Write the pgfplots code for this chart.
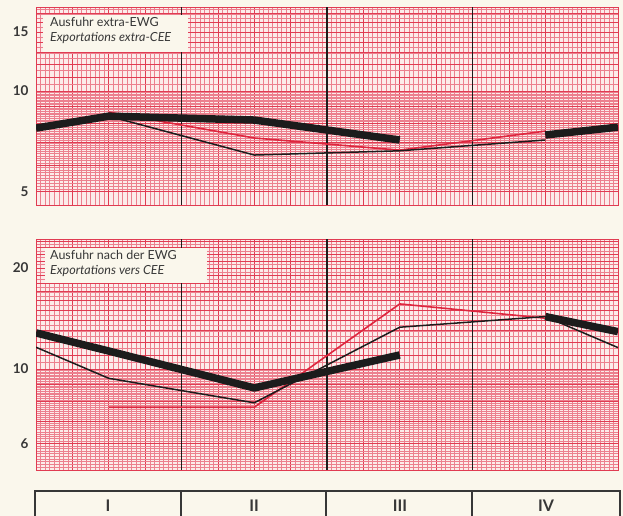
\documentclass[border=0pt]{standalone}
\usepackage{fontspec}
\setmainfont{Lato}
\usepackage{pgfplots}
\pgfplotsset{compat=1.18}
\definecolor{paper}{RGB}{250,247,236}
\definecolor{gridheavy}{RGB}{224,60,82}
\definecolor{gridlight}{RGB}{236,128,142}
\definecolor{gridbg}{RGB}{252,236,234}
\definecolor{redline}{RGB}{222,38,62}
\definecolor{ink}{RGB}{28,28,28}
\definecolor{labelgray}{RGB}{55,55,55}

\pgfplotsset{
  graphpaper/.style={
    scale only axis, width=582pt,
    xmin=0, xmax=4,
    xtick={0,0.25,...,4}, xticklabels={}, minor x tick num=7,
    grid=both,
    major grid style={gridheavy, line width=0.55pt},
    minor grid style={gridlight, line width=0.32pt},
    tick style={draw=none},
    axis line style={gridheavy, line width=0.6pt},
    axis background/.style={fill=gridbg},
    yticklabel style={font=\fontsize{13.5}{13.5}\selectfont\bfseries, text=labelgray, xshift=-4pt},
    /pgf/number format/assume math mode=true,
  },
  thickser/.style={ink, line width=7.5pt, line join=round},
  thinser/.style={ink, line width=1.5pt, line join=round},
  redser/.style={redline, line width=1.6pt, line join=round},
}

\begin{document}
\begin{tikzpicture}
\fill[paper] (0,0) rectangle (623pt,516pt);
\path[use as bounding box] (0,0) rectangle (623pt,516pt);

% top panel: exports outside the EEC
\begin{axis}[ymode=log, graphpaper, at={(36pt,311pt)}, anchor=south west,
    height=198pt, ymin=4.56, ymax=17.8,
    ytick={5,6,...,17},
    yticklabels={5,{},{},{},{},10,{},{},{},{},15,{},{}},
    minor ytick={5.1,5.2,...,9.95,10.5,11,...,17.6},
]
\draw[ink, line width=1.1pt] (rel axis cs:0.25,0) -- (rel axis cs:0.25,1);
\draw[ink, line width=1.1pt] (rel axis cs:0.5,0) -- (rel axis cs:0.5,1);
\draw[ink, line width=1.1pt] (rel axis cs:0.75,0) -- (rel axis cs:0.75,1);
\addplot[redser] coordinates {(0.5,8.64) (1.5,7.23) (2.5,6.65) (3.5,7.58)};
\addplot[thinser] coordinates {(0.5,8.40) (1.5,6.43) (2.5,6.62) (3.5,7.13)};
\addplot[thickser] coordinates {(0,7.74) (0.5,8.40) (1.5,8.18) (2.5,7.13)};
\addplot[thickser] coordinates {(3.5,7.38) (4,7.79)};
\end{axis}

% bottom panel: exports to the EEC
\begin{axis}[ymode=log, graphpaper, at={(36pt,46pt)}, anchor=south west,
    height=231pt, ymin=5.0, ymax=24.4,
    ytick={5,6,...,24},
    yticklabels={{},6,{},{},{},10,{},{},{},{},{},{},{},{},{},20,{},{},{},{}},
    minor ytick={5.1,5.2,...,9.95,10.5,11,...,24},
]
\draw[ink, line width=1.1pt] (rel axis cs:0.25,0) -- (rel axis cs:0.25,1);
\draw[ink, line width=1.1pt] (rel axis cs:0.5,0) -- (rel axis cs:0.5,1);
\draw[ink, line width=1.1pt] (rel axis cs:0.75,0) -- (rel axis cs:0.75,1);
\addplot[redser] coordinates {(0.5,7.69) (1.5,7.69) (2.5,15.63) (3.5,14.17)};
\addplot[thinser] coordinates {(0,11.61) (0.5,9.38) (1.5,7.93) (2.5,13.32) (3.5,14.33) (4,11.58)};
\addplot[thickser] coordinates {(0,12.81) (0.5,11.31) (1.5,8.78) (2.5,11.01)};
\addplot[thickser] coordinates {(3.5,14.33) (4,12.92)};
\end{axis}

% panel captions
\fill[paper] (43pt,464pt) rectangle (188pt,501pt);
\node[anchor=north west, inner sep=0pt, align=left, text=labelgray,
      font=\fontsize{12.5}{15}\selectfont] at (50pt,499pt)
  {Ausfuhr extra-EWG\\\itshape Exportations extra-CEE};
\fill[paper] (45pt,233pt) rectangle (207pt,268pt);
\node[anchor=north west, inner sep=0pt, align=left, text=labelgray,
      font=\fontsize{12.5}{15}\selectfont] at (50pt,266pt)
  {Ausfuhr nach der EWG\\\itshape Exportations vers CEE};

% quarter strip
\draw[labelgray, line width=1.2pt] (35pt,-2pt) -- (35pt,25pt) -- (620pt,25pt) -- (620pt,-2pt);
\draw[labelgray, line width=1.2pt] (181pt,-2pt) -- (181pt,25pt);
\draw[labelgray, line width=1.2pt] (326pt,-2pt) -- (326pt,25pt);
\draw[labelgray, line width=1.2pt] (472pt,-2pt) -- (472pt,25pt);
\foreach \q/\xx in {I/108,II/254,III/400,IV/546}
  \node[text=labelgray, font=\fontsize{16}{16}\selectfont\bfseries, anchor=base] at (\xx pt,4pt) {\q};
\end{tikzpicture}
\end{document}
